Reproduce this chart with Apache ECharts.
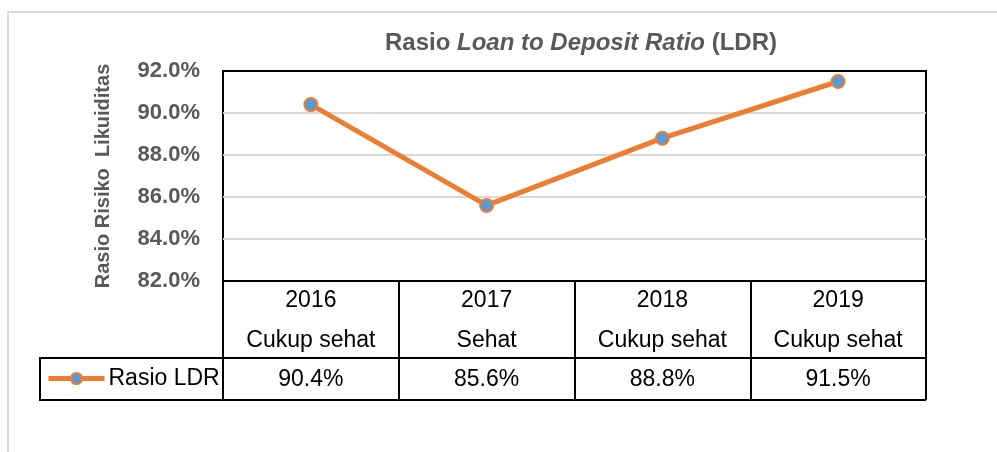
<!DOCTYPE html>
<html>
<head>
<meta charset="utf-8">
<script src="https://cdn.jsdelivr.net/npm/echarts@6/dist/echarts.min.js"></script>
<style>
  html, body { margin: 0; padding: 0; background: #fff; }
  #chartLineBox { width: 997px; height: 452px; }
</style>
</head>
<body>
<div id="chartLineBox"></div>
<script>
// data
const years = ['2016', '2017', '2018', '2019']
const status = ['Cukup sehat', 'Sehat', 'Cukup sehat', 'Cukup sehat']
const ldr = [90.4, 85.6, 88.8, 91.5]
const yTicks = [82, 84, 86, 88, 90, 92]

const sans = '"Liberation Sans", Arial, sans-serif'

// layout of plot / table
const plotL = 223, plotR = 926, plotT = 71, plotB = 281
const tableL = 40, rowTop = 358, rowBot = 400

const chart = echarts.init(document.getElementById('chartLineBox'))

const cell = { fontFamily: sans, fontSize: 23, color: '#000', lineHeight: 39.5 }

const option = {
  animation: false,
  title: {
    text: '{n|Rasio }{i|Loan to Deposit Ratio}{n| (LDR)}',
    left: 385,
    top: 31,
    padding: 0,
    textStyle: {
      rich: {
        n: { fontFamily: sans, fontSize: 24, fontWeight: 'bold', color: '#595959' },
        i: { fontFamily: sans, fontSize: 24, fontWeight: 'bold', fontStyle: 'italic', color: '#595959' }
      }
    }
  },
  legend: {
    data: ['Rasio LDR'],
    left: 46,
    top: 367,
    padding: 0,
    itemWidth: 56,
    itemHeight: 14,
    itemGap: 0,
    lineStyle: { width: 5 },
    textStyle: { fontFamily: sans, fontSize: 23, color: '#000', padding: [0, 0, 0, -1] }
  },
  grid: {
    left: plotL,
    right: 997 - plotR,
    top: plotT,
    bottom: 452 - plotB,
    show: true,
    borderColor: '#000',
    borderWidth: 2
  },
  xAxis: {
    type: 'category',
    data: years,
    boundaryGap: true,
    axisLine: { lineStyle: { color: '#000', width: 2 } },
    axisTick: {
      show: true,
      length: rowBot - plotB,
      lineStyle: { color: '#000', width: 2 }
    },
    axisLabel: {
      interval: 0,
      margin: 0,
      formatter: (v, i) => '{y|' + v + '}\n{s|' + status[i] + '}\n{v|' + ldr[i].toFixed(1) + '%}',
      rich: { y: cell, s: cell, v: cell }
    }
  },
  yAxis: {
    type: 'value',
    min: yTicks[0],
    max: yTicks[yTicks.length - 1],
    interval: 2,
    name: 'Rasio Risiko  Likuiditas',
    nameLocation: 'middle',
    nameRotate: 90,
    nameGap: 110,
    nameTextStyle: { fontFamily: sans, fontSize: 20, fontWeight: 'bold', color: '#595959' },
    axisLine: { show: false },
    axisTick: { show: false },
    axisLabel: {
      margin: 23,
      fontFamily: sans,
      fontSize: 22,
      fontWeight: 'bold',
      color: '#595959',
      formatter: v => v.toFixed(1) + '%'
    },
    splitLine: { showMinLine: false, showMaxLine: false, lineStyle: { color: '#d9d9d9', width: 2 } }
  },
  graphic: [
    // outer frame
    { type: 'rect', silent: true, shape: { x: 8, y: 12, width: 1200, height: 800 },
      style: { fill: 'none', stroke: '#d9d9d9', lineWidth: 2 } },
    // data row of the table
    { type: 'polyline', silent: true,
      shape: { points: [[plotR, rowTop], [tableL, rowTop], [tableL, rowBot], [plotR, rowBot]] },
      style: { fill: 'none', stroke: '#000', lineWidth: 2 } }
  ],
  series: [
    {
      name: 'Rasio LDR',
      type: 'line',
      data: ldr,
      symbol: 'circle',
      symbolSize: 13,
      lineStyle: { color: '#ed7d31', width: 5 },
      itemStyle: { color: '#5b9bd5', borderColor: '#ed7d31', borderWidth: 2 }
    }
  ]
}

chart.setOption(option)
</script>
</body>
</html>
